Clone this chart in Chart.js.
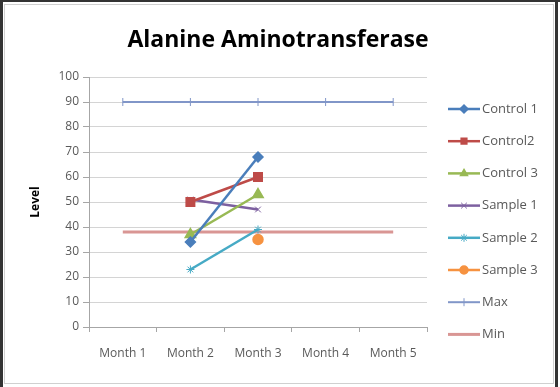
<!DOCTYPE html>
<html>
<head>
<meta charset="utf-8">
<script src="https://cdn.jsdelivr.net/npm/chart.js@4"></script>
<style>
  html, body { margin: 0; padding: 0; background: #fff; }
  #wrap { width: 560px; height: 387px; position: relative; }
</style>
</head>
<body>
<div id="wrap"><canvas id="chart" width="560" height="387"></canvas></div>
<script>
const months = ["Month 1", "Month 2", "Month 3", "Month 4", "Month 5"];
const control1 = [null, 34, 68, null, null];
const control2 = [null, 50, 60, null, null];
const control3 = [null, 37, 53, null, null];
const sample1 = [null, 51, 47, null, null];
const sample2 = [null, 23, 39, null, null];
const sample3 = [null, null, 35, null, null];
const maxLine = [90, 90, 90, 90, 90];
const minLine = [38, 38, 38, 38, 38];
const yTicks = [0, 10, 20, 30, 40, 50, 60, 70, 80, 90, 100];
const chartTitle = "Alanine Aminotransferase";

function series(label, data, color, style, radius, extra) {
    return Object.assign({
        label, data,
        borderColor: color,
        backgroundColor: color,
        borderWidth: 2.5,
        pointStyle: style,
        pointRadius: radius,
        pointBorderWidth: 1.5,
        pointBorderColor: color,
        pointBackgroundColor: color,
        tension: 0,
        spanGaps: false
    }, extra || {});
}

const datasets = [
    series("Control 1", control1, "#4A7EBB", "rectRot", 5),
    series("Control2", control2, "#BE4B48", "rect", 6),
    series("Control 3", control3, "#98B954", "triangle", 6),
    series("Sample 1", sample1, "#7D60A0", "crossRot", 4, { pointBorderWidth: 1 }),
    series("Sample 2", sample2, "#46AAC5", "star", 4, { pointBorderWidth: 1 }),
    series("Sample 3", sample3, "#F69240", "circle", 5),
    series("Max", maxLine, "#8196C8", "line", 4, { borderWidth: 2, pointRotation: 90, pointBorderWidth: 1 }),
    series("Min", minLine, "#D99694", false, 0, { borderWidth: 3 })
];

// frame, white background and title
const framePlugin = {
    id: "frame",
    beforeDraw(chart) {
        const c = chart.ctx;
        c.save();
        c.fillStyle = "#fff";
        c.fillRect(0, 0, chart.width, chart.height);
        c.strokeStyle = "#d0d0d0";
        c.lineWidth = 1;
        c.strokeRect(4.5, 4.5, 549, 379);
        c.fillStyle = "#333";
        c.fillRect(0, 0, 3, 387);
        c.fillRect(0, 0, 560, 2);
        c.fillRect(555, 0, 3, 387);
        c.fillStyle = "#000";
        c.font = "bold 23px 'Open Sans', 'Liberation Sans', sans-serif";
        c.textAlign = "center";
        c.textBaseline = "middle";
        c.fillText(chartTitle, 278, 40);
        c.restore();
    }
};

// excel-like legend: line swatch with marker
const legendPlugin = {
    id: "sideLegend",
    afterDraw(chart) {
        const c = chart.ctx;
        c.save();
        c.font = "13px 'Open Sans', 'Liberation Sans', sans-serif";
        c.textBaseline = "middle";
        chart.data.datasets.forEach((ds, i) => {
            const y = 109 + i * 32.2;
            c.strokeStyle = ds.borderColor;
            c.lineWidth = ds.borderWidth;
            c.beginPath();
            c.moveTo(448, y);
            c.lineTo(480, y);
            c.stroke();
            if (ds.pointStyle) {
                c.fillStyle = ds.pointBackgroundColor;
                c.strokeStyle = ds.pointBorderColor;
                c.lineWidth = ds.pointBorderWidth;
                Chart.helpers.drawPoint(c, {
                    pointStyle: ds.pointStyle,
                    rotation: ds.pointRotation || 0,
                    radius: Math.min(ds.pointRadius, 4),
                    borderWidth: ds.pointBorderWidth
                }, 464, y);
            }
            c.fillStyle = "#595959";
            c.fillText(ds.label, 482, y);
        });
        c.restore();
    }
};

const ctx = document.getElementById("chart").getContext("2d");
new Chart(ctx, {
    type: "line",
    data: { labels: months, datasets },
    plugins: [framePlugin, legendPlugin],
    options: {
        responsive: false,
        animation: false,
        layout: { padding: { left: 26, top: 77, right: 133, bottom: 0 } },
        plugins: {
            legend: { display: false },
            tooltip: { enabled: false },
            title: { display: false }
        },
        scales: {
            x: {
                offset: true,
                grid: { drawOnChartArea: false, offset: true, tickLength: 5, color: "#a6a6a6" },
                border: { color: "#a6a6a6" },
                ticks: { color: "#595959", padding: 14, font: { family: "'Open Sans', 'Liberation Sans', sans-serif", size: 12 }, maxRotation: 0 },
                afterFit(scale) { scale.height = 60; }
            },
            y: {
                min: 0, max: 100,
                afterBuildTicks(scale) { scale.ticks = yTicks.map(v => ({ value: v })); },
                grid: { color: "#d4d4d4", tickLength: 6, tickColor: "#a6a6a6" },
                border: { color: "#a6a6a6" },
                ticks: { color: "#595959", padding: 4, font: { family: "'Open Sans', 'Liberation Sans', sans-serif", size: 12 } },
                title: { display: true, text: "Level", color: "#000", padding: 2, font: { family: "'Open Sans', 'Liberation Sans', sans-serif", size: 12, weight: "bold" } },
                afterFit(scale) { scale.width = 63; }
            }
        }
    }
});
</script>
</body>
</html>
